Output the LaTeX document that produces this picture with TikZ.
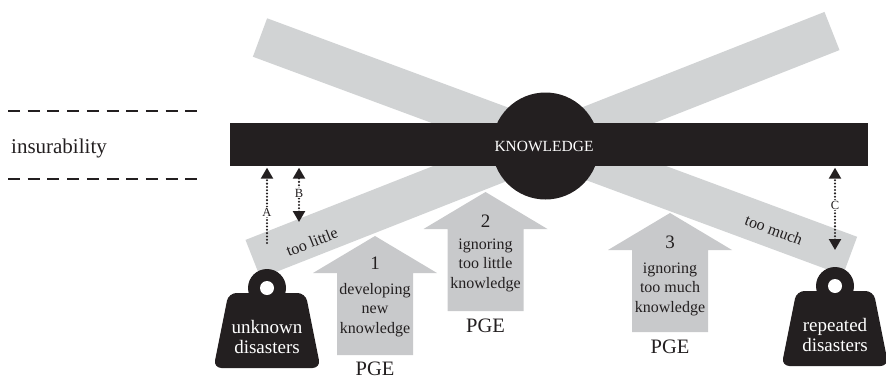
\documentclass[tikz,border=0pt]{standalone}
\usepackage{fontspec}
\setmainfont{Liberation Serif}
\usetikzlibrary{arrows.meta}
\definecolor{bargrey}{HTML}{D1D3D4}
\definecolor{arrgrey}{HTML}{C8C9CB}
\definecolor{ink}{HTML}{231F20}
\tikzset{
  greybar/.style={line width=41pt, draw=bargrey},
  dashline/.style={line width=2pt, draw=ink, dash pattern=on 12pt off 7.7pt},
  dimline/.style={line width=2.3pt, draw=ink, line cap=round, dash pattern=on 0pt off 3.3pt,
    shorten >=1.5pt},
  tipA/.style={-{Triangle[width=12pt,length=11pt]}},
  tipAB/.style={{Triangle[width=12pt,length=11pt]}-{Triangle[width=12pt,length=11pt]}},
  dimlabel/.style={fill=white, inner sep=0.8pt, text=ink, font=\fontsize{12.5}{13}\selectfont},
  arrtext/.style={align=center, text=ink, inner sep=0pt, font=\fontsize{16}{19.5}\selectfont},
  numtext/.style={text=ink, inner sep=0pt, font=\fontsize{19}{20}\selectfont},
  pgetext/.style={text=ink, inner sep=0pt, font=\fontsize{20.5}{22}\selectfont},
  weighttext/.style={align=center, text=white, inner sep=0pt, font=\fontsize{19}{20.5}\selectfont},
  bartext/.style={text=ink, inner sep=0pt, font=\fontsize{16}{17}\selectfont},
  pgearrow/.pic={\fill[arrgrey] (0,0) -- (62,37) -- (38,37) -- (38,119) -- (-38,119)
      -- (-38,37) -- (-62,37) -- cycle;},
  weightshape/.pic={\fill[ink, rounded corners=8pt] (-38.5,5) -- (38.5,5) -- (53.5,80)
      -- (-53.5,80) -- cycle;
    \fill[ink] (0,0) circle (19pt);
    \fill[white] (0,0) circle (7pt);}
}
\begin{document}
\begin{tikzpicture}[x=1pt,y=-1pt]
\useasboundingbox (0,0) rectangle (886,378);

% insurability band
\coordinate (d1s) at (8,111);
\coordinate (d1e) at (197,111);
\coordinate (d2s) at (8,179);
\coordinate (d2e) at (197,179);
\draw[dashline] (d1s) -- (d1e);
\draw[dashline] (d2s) -- (d2e);
\node[text=ink, inner sep=0pt, anchor=base, font=\fontsize{21}{22}\selectfont] (insur) at (59,153) {insurability};

% grey beams of the balance
\coordinate (b1a) at (260,37.5);
\coordinate (b1b) at (850,256);
\coordinate (b2a) at (253,259);
\coordinate (b2b) at (832,31);
\draw[greybar] (b1a) -- (b1b);
\draw[greybar] (b2a) -- (b2b);

% knowledge bar and pivot
\node[fill=ink, draw=none, minimum width=638pt, minimum height=43pt, inner sep=0pt] (kbar) at (549,144.5) {};
\node[circle, fill=ink, draw=none, minimum size=107pt, inner sep=0pt] (kcirc) at (545.5,146) {};
\node[text=white, inner sep=0pt, font=\fontsize{15.5}{16}\selectfont] (ktext) at (544,146) {KNOWLEDGE};

% beam labels
\node[bartext, rotate=21.5] (tlittle) at (312,242) {too little};
\node[bartext, rotate=-20.5] (tmuch) at (774,230) {too much};

% PGE arrows
\pic at (375,236) {pgearrow};
\node[numtext] (n1) at (375,263) {1};
\node[arrtext] (t1) at (375,310) {developing\\new\\knowledge};
\node[pgetext] (p1) at (375,369) {PGE};

\pic at (485.5,192) {pgearrow};
\node[numtext] (n2) at (485.5,221) {2};
\node[arrtext] (t2) at (485.5,265) {ignoring\\too little\\knowledge};
\node[pgetext] (p2) at (485.5,326) {PGE};

\pic at (670,213) {pgearrow};
\node[numtext] (n3) at (670,242) {3};
\node[arrtext] (t3) at (670,289) {ignoring\\too much\\knowledge};
\node[pgetext] (p3) at (670,347) {PGE};

% weights
\pic at (267,288) {weightshape};
\node[weighttext] (w1) at (267,337) {unknown\\disasters};
\pic at (835,286) {weightshape};
\node[weighttext] (w2) at (835,335) {repeated\\disasters};

% dimension arrows A, B, C
\coordinate (aBot) at (267,243);
\coordinate (bBot) at (299,222);
\coordinate (cBot) at (835,250);
\draw[dimline, tipA] (aBot) -- (aBot |- kbar.south);
\draw[dimline, tipAB, shorten <=0pt] (bBot) -- (bBot |- kbar.south);
\draw[dimline, tipAB, shorten <=0pt] (cBot) -- (cBot |- kbar.south);
\node[dimlabel] (la) at (267,212) {A};
\node[dimlabel] (lb) at (299,193) {B};
\node[dimlabel] (lc) at (835,205) {C};
\end{tikzpicture}
\end{document}
